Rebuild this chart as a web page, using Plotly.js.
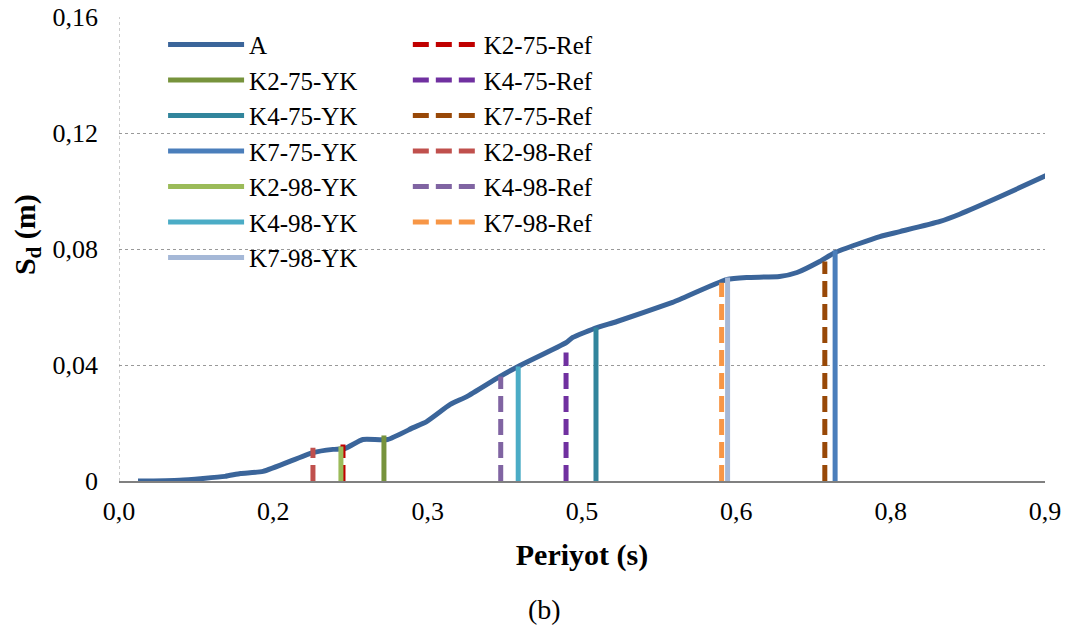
<!DOCTYPE html>
<html><head><meta charset="utf-8">
<script src="https://cdn.plot.ly/plotly-3.0.1.min.js"></script>
<style>body{margin:0;background:#fff}#chart{width:1071px;height:633px}</style>
</head><body><div id="chart"></div>
<script>
const periodA = [0.0185,0.059,0.103,0.118,0.140,0.1885,0.208,0.2196,0.237,0.261,0.286,0.299,0.322,0.338,0.370,0.388,0.435,0.441,0.4645,0.484,0.538,0.545,0.591,0.610,0.642,0.659,0.681,0.696,0.7395,0.759,0.798,0.817,0.856,0.901];
const sdA = [0,0.0003,0.0016,0.0026,0.0033,0.0098,0.0109,0.0112,0.0143,0.0143,0.0184,0.0205,0.0264,0.0291,0.036,0.0395,0.0478,0.0495,0.0529,0.055,0.0616,0.0626,0.0695,0.0702,0.0705,0.0719,0.0757,0.0788,0.0843,0.086,0.0895,0.092,0.098,0.1053];

const ykNames = ['K2-75-YK','K4-75-YK','K7-75-YK','K2-98-YK','K4-98-YK','K7-98-YK'];
const ykPeriods = [0.2575,0.4636,0.696,0.2157,0.388,0.5915];
const ykTops = [0.0157,0.0529,0.0795,0.0119,0.0395,0.0702];
const ykColors = ['#77933C','#31859C','#4A7EBB','#9BBB59','#4BACC6','#A5B8D7'];

const refNames = ['K2-75-Ref','K4-75-Ref','K7-75-Ref','K2-98-Ref','K4-98-Ref','K7-98-Ref'];
const refPeriods = [0.2177,0.4345,0.686,0.1885,0.371,0.5857];
const refTops = [0.0126,0.0443,0.0757,0.0115,0.036,0.0684];
const refColors = ['#C00000','#7030A0','#984807','#C0504D','#8064A2','#F79646'];

const xTickVals = [0,0.15,0.3,0.45,0.6,0.75,0.9];
const xTickText = ['0,0','0,2','0,3','0,5','0,6','0,8','0,9'];
const yTickVals = [0,0.04,0.08,0.12,0.16];
const yTickText = ['0','0,04','0,08','0,12','0,16'];

const FONT = 'Liberation Serif';
const traces = [];
traces.push({x: periodA, y: sdA, name: 'A', mode: 'lines', line: {color: '#3B659A', width: 5, shape: 'spline', smoothing: 0.5}, legend: 'legend'});
refNames.forEach((n, i) => {
  traces.push({x: [refPeriods[i], refPeriods[i]], y: [0, refTops[i]], name: n, mode: 'lines',
    line: {color: refColors[i], width: 5, dash: '16px,7px'}, legend: 'legend2'});
});
ykNames.forEach((n, i) => {
  traces.push({x: [ykPeriods[i], ykPeriods[i]], y: [0, ykTops[i]], name: n, mode: 'lines',
    line: {color: ykColors[i], width: 5}, legend: 'legend'});
});

const layout = {
  width: 1071, height: 633,
  margin: {l: 119, r: 26, t: 17, b: 152},
  paper_bgcolor: '#fff', plot_bgcolor: '#fff',
  font: {family: FONT, size: 25, color: '#000'},
  showlegend: true,
  xaxis: {range: [0, 0.9], tickvals: xTickVals, ticktext: xTickText, showgrid: false, zeroline: false,
    showline: true, linecolor: '#808080', linewidth: 2, ticks: '', ticklabelstandoff: 6,
    tickfont: {size: 26, family: FONT, color: '#000'},
    title: {text: '<b>Periyot (s)</b>', font: {size: 30, family: FONT, color: '#000'}, standoff: 19}},
  yaxis: {range: [0, 0.16], tickvals: yTickVals, ticktext: yTickText, showgrid: true, gridcolor: '#999',
    griddash: 'dot', gridwidth: 1, zeroline: false, showline: false, ticks: '', ticklabelstandoff: 20,
    tickfont: {size: 26, family: FONT, color: '#000'}},
  legend: {x: 0.0476, y: 0.99, xanchor: 'left', yanchor: 'top', bgcolor: 'rgba(0,0,0,0)',
    font: {size: 25, family: FONT, color: '#000'}, itemwidth: 76, tracegroupgap: 0},
  legend2: {x: 0.3119, y: 0.99, xanchor: 'left', yanchor: 'top', bgcolor: 'rgba(0,0,0,0)',
    font: {size: 25, family: FONT, color: '#000'}, itemwidth: 66, tracegroupgap: 0},
  shapes: [{type: 'line', xref: 'x', yref: 'y', x0: 0, x1: 0, y0: 0, y1: 0.16, line: {color: '#999', width: 1, dash: 'dot'}, layer: 'below'}],
  annotations: [
    {text: '(b)', xref: 'paper', yref: 'paper', x: 0.46, y: -0.278, xanchor: 'center', yanchor: 'middle',
      showarrow: false, font: {size: 28, family: FONT, color: '#000'}},
    {text: '<b>S<sub>d</sub> (m)</b>', xref: 'paper', yref: 'paper', x: -0.0994, y: 0.532, xanchor: 'center', yanchor: 'middle',
      textangle: -90, showarrow: false, font: {size: 30, family: FONT, color: '#000'}}
  ]
};
Plotly.newPlot('chart', traces, layout, {displayModeBar: false});
</script></body></html>
